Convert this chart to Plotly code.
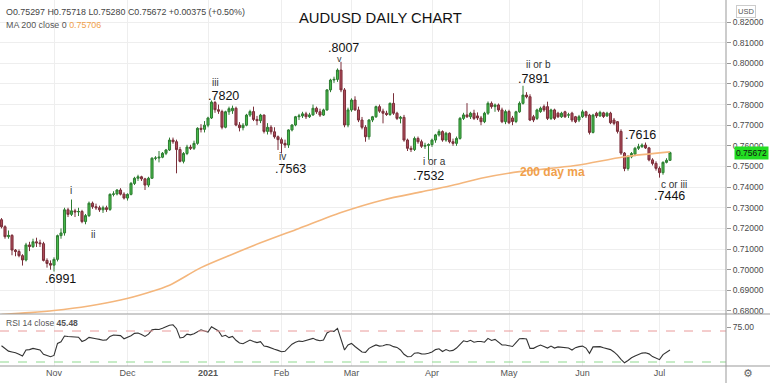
import plotly.graph_objects as go
import pandas as pd

W, H = 770, 383

# ---------------- data ----------------
dates = [d.strftime("%Y-%m-%d") for d in pd.bdate_range("2020-10-12", "2021-07-06")]

opens = [
 .7242,.7208,.7160,.7166,.7095,.7088,.7068,.7047,.7120,.7112,
 .7135,.7130,.7126,.7045,.7030,.7022,.7050,.7165,.7178,.7290,
 .7268,.7285,.7280,.7282,.7233,.7262,.7322,.7305,.7300,.7290,
 .7300,.7292,.7365,.7367,.7386,.7366,.7347,.7365,.7418,.7443,
 .7450,.7440,.7410,.7443,.7540,.7541,.7545,.7564,.7580,.7628,
 .7620,.7582,.7525,.7563,.7594,.7588,.7612,.7685,.7680,.7700,
 .7735,.7810,.7775,.7766,.7690,.7765,.7770,.7782,.7701,.7688,
 .7700,.7749,.7766,.7728,.7722,.7749,.7670,.7690,.7668,.7644,
 .7630,.7612,.7604,.7677,.7701,.7741,.7745,.7755,.7741,.7750,
 .7782,.7765,.7749,.7774,.7871,.7919,.7922,.7967,.7871,.7701,
 .7774,.7822,.7774,.7725,.7690,.7644,.7725,.7741,.7790,.7768,
 .7758,.7752,.7806,.7758,.7733,.7738,.7628,.7588,.7582,.7636,
 .7620,.7598,.7602,.7606,.7628,.7653,.7669,.7628,.7661,.7620,
 .7612,.7636,.7733,.7750,.7741,.7758,.7745,.7735,.7717,.7758,
 .7806,.7790,.7798,.7774,.7717,.7766,.7735,.7718,.7765,.7806,
 .7846,.7838,.7741,.7733,.7766,.7790,.7790,.7733,.7774,.7758,
 .7741,.7765,.7749,.7758,.7741,.7725,.7741,.7765,.7749,.7665,
 .7758,.7745,.7760,.7745,.7758,.7725,.7717,.7670,.7565,.7490,
 .7547,.7560,.7588,.7596,.7604,.7590,.7532,.7515,.7491,.7470,
 .7520,.75297]
highs = [
 .7250,.7215,.7190,.7172,.7100,.7098,.7075,.7130,.7135,.7150,
 .7155,.7145,.7135,.7055,.7045,.7060,.7170,.7200,.7300,.7300,
 .7340,.7295,.7300,.7290,.7270,.7330,.7330,.7320,.7310,.7310,
 .7310,.7370,.7380,.7390,.7395,.7375,.7370,.7425,.7450,.7460,
 .7455,.7445,.7450,.7545,.7550,.7575,.7570,.7585,.7640,.7640,
 .7630,.7595,.7570,.7605,.7605,.7625,.7690,.7705,.7720,.7741,
 .7820,.7818,.7800,.7775,.7770,.7790,.7795,.7790,.7715,.7710,
 .7755,.7775,.7790,.7745,.7755,.7752,.7710,.7700,.7690,.7650,
 .7640,.7630,.7680,.7705,.7745,.7755,.7765,.7765,.7760,.7800,
 .7790,.7780,.7780,.7875,.7925,.7935,.7975,.8007,.7880,.7785,
 .7830,.7840,.7790,.7740,.7700,.7730,.7745,.7795,.7800,.7780,
 .7770,.7810,.7855,.7765,.7745,.7750,.7635,.7600,.7645,.7645,
 .7630,.7615,.7612,.7635,.7658,.7680,.7675,.7668,.7665,.7635,
 .7645,.7740,.7760,.7807,.7765,.7775,.7762,.7745,.7765,.7815,
 .7815,.7805,.7805,.7785,.7775,.7775,.7745,.7770,.7815,.7891,
 .7860,.7850,.7750,.7780,.7790,.7800,.7814,.7780,.7780,.7765,
 .7765,.7770,.7760,.7765,.7745,.7750,.7775,.7770,.7755,.7755,
 .7765,.7770,.7765,.7765,.7765,.7735,.7720,.7680,.7570,.7555,
 .7570,.7595,.7610,.7612,.7616,.7595,.7540,.7525,.7500,.7525,
 .7540,.75718]
lows = [
 .7200,.7150,.7150,.7070,.7065,.7060,.7020,.7040,.7090,.7105,
 .7110,.7110,.7040,.7010,.7000,.6991,.7040,.7150,.7165,.7255,
 .7260,.7255,.7260,.7225,.7220,.7255,.7295,.7290,.7280,.7275,
 .7280,.7285,.7355,.7360,.7360,.7340,.7335,.7360,.7410,.7430,
 .7430,.7386,.7400,.7440,.7530,.7520,.7540,.7555,.7575,.7610,
 .7467,.7520,.7515,.7555,.7580,.7580,.7605,.7665,.7665,.7690,
 .7730,.7760,.7755,.7680,.7685,.7750,.7755,.7695,.7670,.7675,
 .7695,.7740,.7720,.7700,.7710,.7660,.7655,.7655,.7635,.7580,
 .7563,.7590,.7590,.7670,.7695,.7725,.7735,.7730,.7735,.7745,
 .7755,.7740,.7745,.7770,.7860,.7905,.7910,.7860,.7690,.7690,
 .7765,.7770,.7715,.7680,.7620,.7630,.7715,.7735,.7760,.7709,
 .7745,.7745,.7750,.7725,.7709,.7620,.7575,.7570,.7575,.7610,
 .7590,.7585,.7532,.7595,.7615,.7645,.7620,.7620,.7612,.7600,
 .7600,.7630,.7725,.7735,.7730,.7725,.7725,.7700,.7710,.7750,
 .7780,.7765,.7765,.7710,.7705,.7705,.7700,.7710,.7760,.7800,
 .7830,.7720,.7715,.7725,.7760,.7765,.7725,.7725,.7725,.7735,
 .7735,.7735,.7735,.7715,.7710,.7715,.7735,.7735,.7655,.7660,
 .7735,.7740,.7735,.7740,.7705,.7700,.7660,.7556,.7477,.7480,
 .7540,.7550,.7580,.7590,.7585,.7525,.7505,.7480,.7446,.7460,
 .7515,.75280]
closes = [
 .7208,.7160,.7166,.7095,.7088,.7068,.7047,.7120,.7112,.7135,
 .7130,.7126,.7045,.7030,.7022,.7050,.7165,.7178,.7290,.7268,
 .7285,.7280,.7282,.7233,.7262,.7322,.7305,.7300,.7290,.7300,
 .7292,.7365,.7367,.7386,.7366,.7347,.7365,.7418,.7443,.7450,
 .7440,.7410,.7443,.7540,.7541,.7545,.7564,.7580,.7628,.7620,
 .7582,.7525,.7563,.7594,.7588,.7612,.7685,.7680,.7700,.7735,
 .7812,.7775,.7768,.7690,.7765,.7780,.7782,.7701,.7688,.7700,
 .7749,.7766,.7728,.7722,.7749,.7670,.7690,.7668,.7644,.7630,
 .7612,.7604,.7677,.7701,.7741,.7745,.7755,.7741,.7750,.7782,
 .7765,.7749,.7774,.7871,.7919,.7922,.7967,.7871,.7701,.7774,
 .7822,.7774,.7725,.7690,.7644,.7725,.7741,.7790,.7768,.7758,
 .7752,.7806,.7758,.7733,.7738,.7628,.7588,.7582,.7636,.7620,
 .7598,.7602,.7606,.7628,.7653,.7669,.7628,.7661,.7620,.7612,
 .7636,.7733,.7750,.7741,.7758,.7733,.7735,.7717,.7758,.7806,
 .7790,.7798,.7774,.7717,.7766,.7712,.7718,.7765,.7806,.7846,
 .7838,.7725,.7725,.7774,.7782,.7774,.7733,.7774,.7733,.7741,
 .7758,.7741,.7750,.7725,.7717,.7741,.7765,.7745,.7665,.7749,
 .7745,.7762,.7742,.7758,.7712,.7709,.7670,.7565,.7490,.7547,
 .7563,.7588,.7596,.7604,.7590,.7532,.7515,.7491,.7470,.7520,
 .7530,.75672]

rsi = [
 51,47,44,43,42,40,37.7,45.5,46,47.6,
 46.3,45.5,40,38,36.9,38.5,54,56,63.5,63,
 62.7,62.7,62,56.5,58.5,61.8,60.5,60,59.2,58,
 58.5,63,64.8,64.8,64,60,61.5,64,67,67.5,
 65.5,63,66,71.5,72.2,72,73.5,75.3,77.5,78,
 73,61,62,66,65,66.5,68.5,71.5,70,68.5,
 75.5,72.2,70,63,64.5,61.5,63,58,54.5,53.5,
 55.5,58.4,56.5,55,56.2,50.5,49.8,47.8,46.5,45,
 43.3,43.8,48,53,55.5,57,56.5,58,59.5,60.5,
 58.5,57.5,58.4,67.5,70,69.5,73.4,58,45.5,52,
 54,50,46.5,43,42.5,47.6,50,52,50.5,51,
 52.5,52,49.8,48.8,45.5,40,36.7,37,41.4,42,
 40.5,40.3,41.2,43,46,47,43.5,46,44.2,45,
 48,53,57.3,56.2,58,55.5,56.5,56.5,55.5,60.5,
 57.8,59.2,56,52,52,50.5,50,55,60,60.4,
 59.7,47.6,47.6,50,51.9,50,48,50.5,48,49.5,
 48.9,48.9,48,45.5,48.5,49.8,50.5,48,41.2,49.5,
 49.2,49.8,48.3,47.2,46,43,39,33.5,29,32,
 35.5,37.7,40,41.5,42,40.5,37,34.5,33,39.5,
 42,45.48]

# 200-day moving average at weekly-ish points
ma_idx = [0, 8, 15, 25, 34, 42, 48, 57, 66, 74, 85, 97, 109, 120, 128, 137, 148, 157, 165, 178, 191]
ma_val = [.6783,.6792,.6802,.6824,.6853,.6890,.6925,.7010,.7075,.7130,.7200,.7277,
          .7338,.7377,.7405,.7443,.7475,.7491,.7507,.7547,.75706]

month_labels = ["Nov", "Dec", "<b>2021</b>", "Feb", "Mar", "Apr", "May", "Jun", "Jul"]
price_ticks = [0.68, 0.69, 0.70, 0.71, 0.72, 0.73, 0.74, 0.75, 0.76, 0.77, 0.78, 0.79, 0.80, 0.81, 0.82]

# ---------------- layout helpers ----------------
xs = list(range(len(dates)))
month_idx = []
seen = set()
for i, d in enumerate(dates):
    ym = d[:7]
    if ym not in seen:
        seen.add(ym)
        if i > 0:
            month_idx.append(i)

PLOT_RIGHT = 726
X_RANGE = [-0.43, 207.0]
Y_RANGE = [0.67853, 0.83066]
R_RANGE = [24.84, 90.65]

def px_to_ix(px):
    return X_RANGE[0] + px / PLOT_RIGHT * (X_RANGE[1] - X_RANGE[0])

def py_to_price(py):
    return Y_RANGE[1] - py / 314 * (Y_RANGE[1] - Y_RANGE[0])

FONT = "Liberation Sans, Arial, sans-serif"

fig = go.Figure()

fig.add_trace(go.Scatter(
    x=[xs[i] for i in ma_idx], y=ma_val, mode="lines",
    line=dict(color="#f4b67c", width=1.6, shape="spline", smoothing=0.8),
    hoverinfo="skip", xaxis="x", yaxis="y"))

fig.add_trace(go.Candlestick(
    x=xs, open=opens, high=highs, low=lows, close=closes,
    increasing=dict(line=dict(color="#2e7d32", width=1), fillcolor="#46b84a"),
    decreasing=dict(line=dict(color="#7a2f3a", width=1), fillcolor="#ae4a58"),
    whiskerwidth=0, xaxis="x", yaxis="y"))

fig.add_trace(go.Scatter(
    x=xs, y=rsi, mode="lines", line=dict(color="#333333", width=1.1),
    xaxis="x2", yaxis="y2", hoverinfo="skip"))

p_bot = (H - 314) / H
r_top = (H - 315) / H
r_bot = (H - 366) / H
xdom = [0, PLOT_RIGHT / W]

grid = "#eeeeee"
fig.update_layout(
    width=W, height=H, margin=dict(l=0, r=0, t=0, b=0),
    paper_bgcolor="white", plot_bgcolor="white", showlegend=False,
    boxgap=0.15,
    xaxis=dict(domain=xdom, range=X_RANGE, anchor="y", tickvals=month_idx,
               showticklabels=False, showgrid=True, gridcolor=grid, zeroline=False,
               rangeslider=dict(visible=False), fixedrange=True),
    yaxis=dict(domain=[p_bot, 1], range=Y_RANGE, side="right", anchor="x",
               tickvals=price_ticks, tickformat=".5f", ticks="outside", ticklen=4,
               tickcolor="#999", tickfont=dict(family=FONT, size=8.5, color="#4a4a4a"),
               showgrid=True, gridcolor=grid, zeroline=False, automargin=False),
    xaxis2=dict(domain=xdom, range=X_RANGE, anchor="y2", tickvals=month_idx,
                ticktext=month_labels, ticks="", showgrid=True, gridcolor=grid,
                tickfont=dict(family=FONT, size=9, color="#555"), zeroline=False,
                automargin=False),
    yaxis2=dict(domain=[r_bot, r_top], range=R_RANGE, side="right", anchor="x2",
                tickvals=[75], ticktext=["75.00"], ticks="outside", ticklen=4,
                tickcolor="#999", tickfont=dict(family=FONT, size=8.5, color="#4a4a4a"),
                showgrid=False, zeroline=False, automargin=False),
)

shapes = [
    dict(type="line", xref="x2 domain", yref="y2", x0=0, x1=1, y0=70, y1=70,
         line=dict(color="#e99a9a", width=1, dash="dash")),
    dict(type="line", xref="x2 domain", yref="y2", x0=0, x1=1, y0=30, y1=30,
         line=dict(color="#8fd88f", width=1, dash="dash")),
    dict(type="line", xref="paper", yref="paper", x0=PLOT_RIGHT / W, x1=PLOT_RIGHT / W,
         y0=0, y1=1, line=dict(color="#999", width=1)),
    dict(type="line", xref="paper", yref="paper", x0=0, x1=1, y0=p_bot, y1=p_bot,
         line=dict(color="#999", width=1)),
    dict(type="line", xref="paper", yref="paper", x0=0, x1=1, y0=r_bot, y1=r_bot,
         line=dict(color="#999", width=1)),
]
fig.update_layout(shapes=shapes)

ann = []
def txt(px, py, s, size, color="#111", bold=False):
    ann.append(dict(x=px_to_ix(px), y=py_to_price(py), xref="x", yref="y", text=(f"<b>{s}</b>" if bold else s),
                    showarrow=False, xanchor="center", yanchor="middle",
                    font=dict(family=FONT, size=size, color=color)))

WAVE = "#333333"
txt(380, 18, "AUDUSD DAILY CHART", 14.8, "#111")
txt(343.5, 48, ".8007", 12.5)
txt(339.5, 59, "v", 9, WAVE)
txt(223.7, 96, ".7820", 12.5)
txt(215.7, 82, "iii", 10, WAVE)
txt(290.5, 169, ".7563", 12.5)
txt(282, 156, "iv", 10, WAVE)
txt(428.7, 175.7, ".7532", 12.5)
txt(434.7, 161, "i or a", 10, WAVE)
txt(533.5, 79, ".7891", 12.5)
txt(538, 64, "ii or b", 10, WAVE)
txt(640, 135, ".7616", 12.5)
txt(673.7, 184, "c or iii", 10, WAVE)
txt(669, 196, ".7446", 12.5)
txt(60.5, 279, ".6991", 12.5)
txt(70.7, 190.7, "i", 10, WAVE)
txt(93, 234, "ii", 10, WAVE)
txt(552, 172, "200 day ma", 12, "#f0a04b", bold=True)

# header legend lines
ann.append(dict(x=4 / W, y=1 - 12 / H, xref="paper", yref="paper", xanchor="left", yanchor="middle",
                showarrow=False, text="O0.75297 H0.75718 L0.75280 C0.75672 +0.00375 (+0.50%)",
                font=dict(family=FONT, size=8.9, color="#444")))
ann.append(dict(x=4 / W, y=1 - 24.5 / H, xref="paper", yref="paper", xanchor="left", yanchor="middle",
                showarrow=False, text="MA 200 close 0 <span style='color:#f0a04b'>0.75706</span>",
                font=dict(family=FONT, size=8.9, color="#555")))
ann.append(dict(x=4 / W, y=1 - 323 / H, xref="paper", yref="paper", xanchor="left", yanchor="middle",
                showarrow=False, text="RSI 14 close <b>45.48</b>",
                font=dict(family=FONT, size=8.5, color="#555")))
# current price tag
ann.append(dict(x=751 / W, y=closes[-1], xref="paper", yref="y", xanchor="center", yanchor="middle",
                showarrow=False, text="0.75672", bgcolor="#22dd22", borderpad=1,
                font=dict(family=FONT, size=8.5, color="#111")))
# currency box
ann.append(dict(x=746 / W, y=1 - 11 / H, xref="paper", yref="paper", xanchor="center", yanchor="middle",
                showarrow=False, text="USD", bgcolor="white", bordercolor="#cccccc", borderwidth=1,
                borderpad=1, font=dict(family=FONT, size=7.5, color="#555")))
# settings gear
ann.append(dict(x=748 / W, y=(H - 373) / H, xref="paper", yref="paper", xanchor="center", yanchor="middle",
                showarrow=False, text="⚙", font=dict(family="DejaVu Sans", size=11, color="#666")))
fig.update_layout(annotations=ann)

fig.write_html("out.html", config={"displayModeBar": False},
               post_script="document.body.style.margin='0';document.body.style.padding='0';")
